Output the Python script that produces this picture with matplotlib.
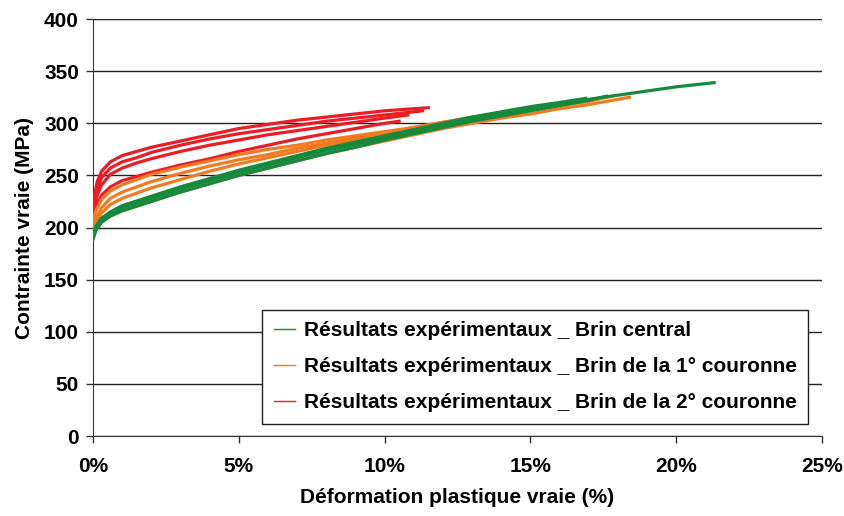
import matplotlib
matplotlib.use("Agg")
import matplotlib.pyplot as plt
from matplotlib.ticker import FuncFormatter, MultipleLocator

plt.rcParams['font.family'] = ['Liberation Sans', 'DejaVu Sans']
plt.rcParams['font.weight'] = 'bold'

# true plastic strain (%) / true stress (MPa)
# central strand
g1_x = [0, 0.1, 0.3, 0.6, 1, 2, 3, 4, 5, 6, 7, 8, 9, 10, 11, 12, 13, 14, 15, 16, 17, 18, 19, 20, 21.3]
g1_y = [190, 199, 207, 213, 219, 228, 237, 245, 253, 260, 267, 274, 280, 286, 292, 298, 304, 309, 314, 318, 323, 327, 331, 335, 339]
g2_x = [0, 0.1, 0.3, 0.6, 1, 2, 3, 4, 5, 6, 7, 8, 9, 10, 11, 12, 13, 14, 15, 16, 17, 17.6]
g2_y = [188, 197, 205, 211, 216, 225, 234, 242, 250, 257, 264, 271, 277, 284, 290, 296, 302, 307, 312, 317, 322, 326]
g3_x = [0, 0.1, 0.3, 0.6, 1, 2, 3, 4, 5, 6, 7, 8, 9, 10, 11, 12, 13, 14, 15, 16, 16.9]
g3_y = [192, 201, 209, 215, 221, 230, 239, 247, 255, 262, 269, 276, 282, 288, 294, 300, 306, 311, 316, 320, 324]

# 1st ring strands
o1_x = [0, 0.1, 0.3, 0.6, 1, 2, 3, 4, 5, 6, 7, 8, 9, 10, 11, 12, 13, 14, 15, 16, 17, 17.6]
o1_y = [205, 216, 227, 235, 241, 251, 258, 264, 270, 275, 279, 284, 288, 292, 296, 301, 306, 310, 314, 318, 322, 325]
o2_x = [0, 0.3, 0.6, 1, 2, 3, 4, 5, 6, 7, 8, 9, 10, 11, 12, 13, 14, 15, 16, 17, 17.3]
o2_y = [203, 219, 228, 234, 244, 252, 259, 265, 270, 276, 281, 286, 291, 296, 301, 305, 309, 313, 317, 321, 323]
o3_x = [0, 0.3, 0.6, 1, 2, 3, 4, 5, 6, 7, 8, 9, 10, 11, 12, 13, 14, 15, 16, 17, 17.8]
o3_y = [200, 214, 222, 228, 238, 246, 254, 261, 267, 273, 279, 284, 289, 294, 299, 304, 309, 313, 318, 322, 326]
o4_x = [0, 0.1, 0.3, 0.6, 1, 2, 3, 4, 5, 6, 7, 8, 9, 10, 11, 12, 13, 14, 15, 16, 17, 18, 18.4]
o4_y = [195, 201, 206, 211, 216, 225, 234, 242, 250, 257, 264, 271, 277, 283, 289, 295, 300, 305, 309, 314, 318, 323, 325]

# 2nd ring strands
r1_x = [0, 0.05, 0.15, 0.3, 0.6, 1, 1.5, 2, 3, 4, 5, 6, 7, 8, 9, 10, 11, 11.5]
r1_y = [215, 230, 244, 254, 263, 269, 273, 277, 283, 289, 295, 299, 303, 306, 309, 312, 314, 315]
r2_x = [0, 0.05, 0.15, 0.3, 0.6, 1, 1.5, 2, 3, 4, 5, 6, 7, 8, 9, 10, 11, 11.3]
r2_y = [212, 224, 237, 248, 257, 263, 267, 272, 279, 285, 290, 294, 298, 302, 305, 308, 311, 312]
r3_x = [0, 0.15, 0.3, 0.6, 1, 1.5, 2, 3, 4, 5, 6, 7, 8, 9, 10, 10.8]
r3_y = [210, 231, 241, 251, 257, 262, 266, 273, 279, 284, 289, 293, 297, 301, 305, 308]
r4_x = [0, 0.1, 0.3, 0.6, 1, 2, 3, 4, 5, 6, 7, 8, 9, 10, 10.5]
r4_y = [205, 219, 231, 239, 245, 253, 260, 266, 273, 279, 285, 290, 295, 300, 302]

labels = ["Résultats expérimentaux _ Brin central",
          "Résultats expérimentaux _ Brin de la 1° couronne",
          "Résultats expérimentaux _ Brin de la 2° couronne"]
green = '#168a3c'
orange = '#f47a22'
red = '#ec1c24'

fig = plt.figure(figsize=(8.44, 5.16), dpi=100)
ax = fig.add_axes([0.110, 0.155, 0.864, 0.808])

lw = 2.3
# red first so green/orange sit on top like the original
for xs, ys in [(r1_x, r1_y), (r2_x, r2_y), (r3_x, r3_y), (r4_x, r4_y)]:
    ax.plot(xs, ys, color=red, lw=lw, zorder=3)
for xs, ys in [(o1_x, o1_y), (o2_x, o2_y), (o3_x, o3_y), (o4_x, o4_y)]:
    ax.plot(xs, ys, color=orange, lw=lw, zorder=3)
for xs, ys in [(g1_x, g1_y), (g2_x, g2_y), (g3_x, g3_y)]:
    ax.plot(xs, ys, color=green, lw=lw, zorder=4)
# lowest orange specimen shows just under the green band
ax.plot(o4_x, o4_y, color=orange, lw=1.2, zorder=3.5)

# legend handles
h1, = ax.plot([], [], color=green, lw=1)
h2, = ax.plot([], [], color=orange, lw=1)
h3, = ax.plot([], [], color=red, lw=1)
leg = ax.legend([h1, h2, h3], labels, loc='lower right',
                bbox_to_anchor=(0.981, 0.029), fancybox=False, framealpha=1,
                edgecolor='#222222', fontsize=15, handlelength=1.05,
                handletextpad=0.4, labelspacing=0.82, borderpad=0.55,
                borderaxespad=0)
leg.get_frame().set_linewidth(1)
leg.set_zorder(10)

ax.set_xlim(0, 25)
ax.set_ylim(0, 400)
ax.xaxis.set_major_locator(MultipleLocator(5))
ax.yaxis.set_major_locator(MultipleLocator(50))
ax.xaxis.set_major_formatter(FuncFormatter(lambda v, p: "%d%%" % v))
ax.yaxis.grid(True, color='#222222', lw=1)
ax.set_axisbelow(True)
for s in ['top', 'right']:
    ax.spines[s].set_visible(False)
for s in ['left', 'bottom']:
    ax.spines[s].set_color('#333333')
ax.tick_params(direction='out', length=5, width=1, color='#333333',
               labelsize=15)
ax.tick_params(axis='x', pad=10)
ax.tick_params(axis='y', pad=5)
for t in ax.get_xticklabels() + ax.get_yticklabels():
    t.set_fontweight('bold')

ax.set_xlabel("Déformation plastique vraie (%)", fontsize=15, fontweight='bold', labelpad=9)
ax.set_ylabel("Contrainte vraie (MPa)", fontsize=15, fontweight='bold', labelpad=7)

fig.savefig("out.png", dpi=100)
